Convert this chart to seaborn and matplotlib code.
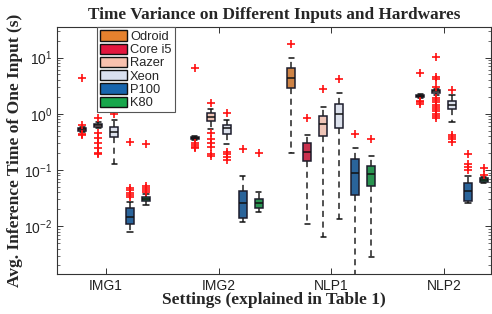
import numpy as np
import pandas as pd
import matplotlib
matplotlib.use('Agg')
import matplotlib.pyplot as plt
from matplotlib.patches import Patch
import seaborn as sns

# Data
SETTINGS = ['IMG1', 'IMG2', 'NLP1', 'NLP2']
HARDWARE = ['Odroid', 'Core i5', 'Razer', 'Xeon', 'P100', 'K80']
COLORS = ['#E5812E', '#E3173E', '#F8C1AE', '#D9E0EF', '#1765AD', '#17A64B']

# one entry per box: whisker low, q1, median, q3, whisker high
box_setting = ['IMG1'] * 5 + ['IMG2'] * 5 + ['NLP1'] * 6 + ['NLP2'] * 5
box_hw = (['Core i5', 'Razer', 'Xeon', 'P100', 'K80'] * 2
          + HARDWARE
          + ['Core i5', 'Razer', 'Xeon', 'P100', 'K80'])
box_low = [0.47, 0.55, 0.13, 0.0079, 0.024,
           0.34, 0.54, 0.29, 0.0117, 0.018,
           0.20, 0.0109, 0.0063, 0.0133, 0.0008, 0.0028,
           1.9, 2.2, 0.72, 0.026, 0.058]
box_q1 = [0.50, 0.58, 0.38, 0.0109, 0.028,
          0.355, 0.75, 0.44, 0.014, 0.021,
          2.9, 0.145, 0.40, 0.56, 0.036, 0.052,
          2.0, 2.35, 1.23, 0.028, 0.061]
box_med = [0.53, 0.62, 0.48, 0.0145, 0.030,
           0.37, 0.88, 0.56, 0.026, 0.026,
           4.4, 0.21, 0.66, 1.0, 0.088, 0.085,
           2.1, 2.5, 1.45, 0.042, 0.066]
box_q3 = [0.56, 0.67, 0.58, 0.021, 0.033,
          0.385, 1.04, 0.64, 0.042, 0.030,
          6.4, 0.30, 0.92, 1.51, 0.157, 0.118,
          2.2, 2.65, 1.7, 0.059, 0.072]
box_high = [0.59, 0.72, 0.78, 0.027, 0.037,
            0.40, 1.23, 0.78, 0.078, 0.040,
            10.0, 0.42, 1.33, 2.37, 0.247, 0.178,
            2.25, 2.8, 2.2, 0.078, 0.075]

# outliers (red crosses)
out_img1_core = [4.3, 0.62, 0.44, 0.42]
out_img1_razer = [0.85, 0.46, 0.37, 0.30, 0.25, 0.20, 0.19]
out_img1_xeon = [1.0]
out_img1_p100 = [0.32, 0.048, 0.044, 0.039, 0.036, 0.033]
out_img1_k80 = [0.29, 0.052, 0.048, 0.044, 0.041]
out_img2_core = [6.6, 0.30, 0.28, 0.26, 0.25]
out_img2_razer = [1.57, 0.46, 0.36, 0.30, 0.26, 0.19, 0.18]
out_img2_xeon = [1.03, 0.21, 0.19, 0.17, 0.15]
out_img2_p100 = [0.24]
out_img2_k80 = [0.20]
out_nlp1_odroid = [17.8]
out_nlp1_core = [0.85]
out_nlp1_razer = [2.8]
out_nlp1_xeon = [4.2]
out_nlp1_p100 = [0.44]
out_nlp1_k80 = [0.36]
out_nlp2_core = [5.4, 1.7, 1.6, 1.5]
out_nlp2_razer = [10.3, 4.6, 4.2, 3.0, 1.9, 1.75, 1.6, 1.45, 1.3, 1.2, 1.1, 1.0, 0.92, 0.85]
out_nlp2_xeon = [2.6, 0.42, 0.38, 0.35, 0.32]
out_nlp2_p100 = [0.19, 0.128, 0.115, 0.10]
out_nlp2_k80 = [0.108, 0.082]

outliers = [
    ('IMG1', 'Core i5', out_img1_core), ('IMG1', 'Razer', out_img1_razer),
    ('IMG1', 'Xeon', out_img1_xeon), ('IMG1', 'P100', out_img1_p100),
    ('IMG1', 'K80', out_img1_k80),
    ('IMG2', 'Core i5', out_img2_core), ('IMG2', 'Razer', out_img2_razer),
    ('IMG2', 'Xeon', out_img2_xeon), ('IMG2', 'P100', out_img2_p100),
    ('IMG2', 'K80', out_img2_k80),
    ('NLP1', 'Odroid', out_nlp1_odroid), ('NLP1', 'Core i5', out_nlp1_core),
    ('NLP1', 'Razer', out_nlp1_razer), ('NLP1', 'Xeon', out_nlp1_xeon),
    ('NLP1', 'P100', out_nlp1_p100), ('NLP1', 'K80', out_nlp1_k80),
    ('NLP2', 'Core i5', out_nlp2_core), ('NLP2', 'Razer', out_nlp2_razer),
    ('NLP2', 'Xeon', out_nlp2_xeon), ('NLP2', 'P100', out_nlp2_p100),
    ('NLP2', 'K80', out_nlp2_k80),
]

# long-form tables
rows = []
for i in range(len(box_setting)):
    for v in (box_low[i], box_q1[i], box_med[i], box_q3[i], box_high[i]):
        rows.append((box_setting[i], box_hw[i], v))
df_box = pd.DataFrame(rows, columns=['setting', 'hw', 'time'])

rows = []
for s, h, vals in outliers:
    for v in vals:
        rows.append((s, h, v))
df_out = pd.DataFrame(rows, columns=['setting', 'hw', 'time'])

# Figure
sns.set_style('ticks')
plt.rcParams['font.family'] = ['Liberation Sans', 'DejaVu Sans']
plt.rcParams['mathtext.default'] = 'regular'

fig = plt.figure(figsize=(4.92, 3.14), dpi=100, facecolor='white')
ax = fig.add_axes([0.116, 0.127, 0.882, 0.787])

EDGE = '#1c1c2c'
BOX_W = 0.85
sns.boxplot(data=df_box, x='setting', y='time', hue='hw', order=SETTINGS,
            hue_order=HARDWARE, palette=COLORS, width=BOX_W, gap=0.5,
            whis=(0, 100), log_scale=True, showfliers=False, ax=ax,
            linecolor=EDGE, linewidth=1.1, legend=False,
            whiskerprops=dict(linestyle=(0, (4, 3)), color='#222222'),
            capprops=dict(color='#111111'),
            medianprops=dict(color='#111111'),
            capwidths=0.045)

n_before = len(ax.collections)
sns.stripplot(data=df_out, x='setting', y='time', hue='hw', order=SETTINGS,
              hue_order=HARDWARE, palette=['#FF1010'] * len(HARDWARE),
              dodge=True, jitter=False, marker='+', size=6, linewidth=1.2,
              legend=False, ax=ax)

# stripplot dodges over a 0.8 band; stretch to the box band
for coll in ax.collections[n_before:]:
    offs = coll.get_offsets()
    if len(offs) == 0:
        continue
    x = np.asarray(offs[:, 0])
    base = np.round(x)
    offs[:, 0] = base + (x - base) * BOX_W / 0.8
    coll.set_offsets(offs)
    coll.set_edgecolor('#FF1010')
    coll.set_facecolor('#FF1010')

ax.set_yscale('log')
ax.set_ylim(1.4e-3, 35)
ax.set_xlim(-0.435, 3.417)
ax.set_yticks([1e-2, 1e-1, 1e0, 1e1])

ax.tick_params(which='both', direction='in', top=True, right=True,
               colors='#333333', labelcolor='#222222', labelsize=10)
ax.tick_params(which='major', length=4, width=0.7)
ax.tick_params(which='minor', length=2, width=0.5)
ax.tick_params(axis='x', which='minor', top=False, bottom=False)
for sp in ax.spines.values():
    sp.set_visible(True)
    sp.set_color('#333333')
    sp.set_linewidth(0.8)

serif = ['Liberation Serif', 'DejaVu Serif']
ax.set_title('Time Variance on Different Inputs and Hardwares',
             fontsize=12.4, fontweight='bold', family=serif, pad=6)
ax.set_xlabel('Settings (explained in Table 1)', fontsize=12.5,
              fontweight='bold', family=serif, labelpad=-1)
ax.set_ylabel('Avg. Inference Time of One Input (s)', fontsize=12.5,
              fontweight='bold', family=serif, labelpad=1)

handles = [Patch(facecolor=c, edgecolor='#111111', linewidth=1.0) for c in COLORS]
leg = ax.legend(handles, HARDWARE, loc='upper left', bbox_to_anchor=(0.092, 1.0),
                fontsize=9.3, frameon=True, fancybox=False, framealpha=1,
                edgecolor='#555555', borderpad=0.25, labelspacing=0.05,
                handlelength=2.1, handleheight=0.85, handletextpad=0.2,
                borderaxespad=0)
leg.get_frame().set_linewidth(0.8)

fig.savefig('out.png', dpi=100, facecolor='white')
